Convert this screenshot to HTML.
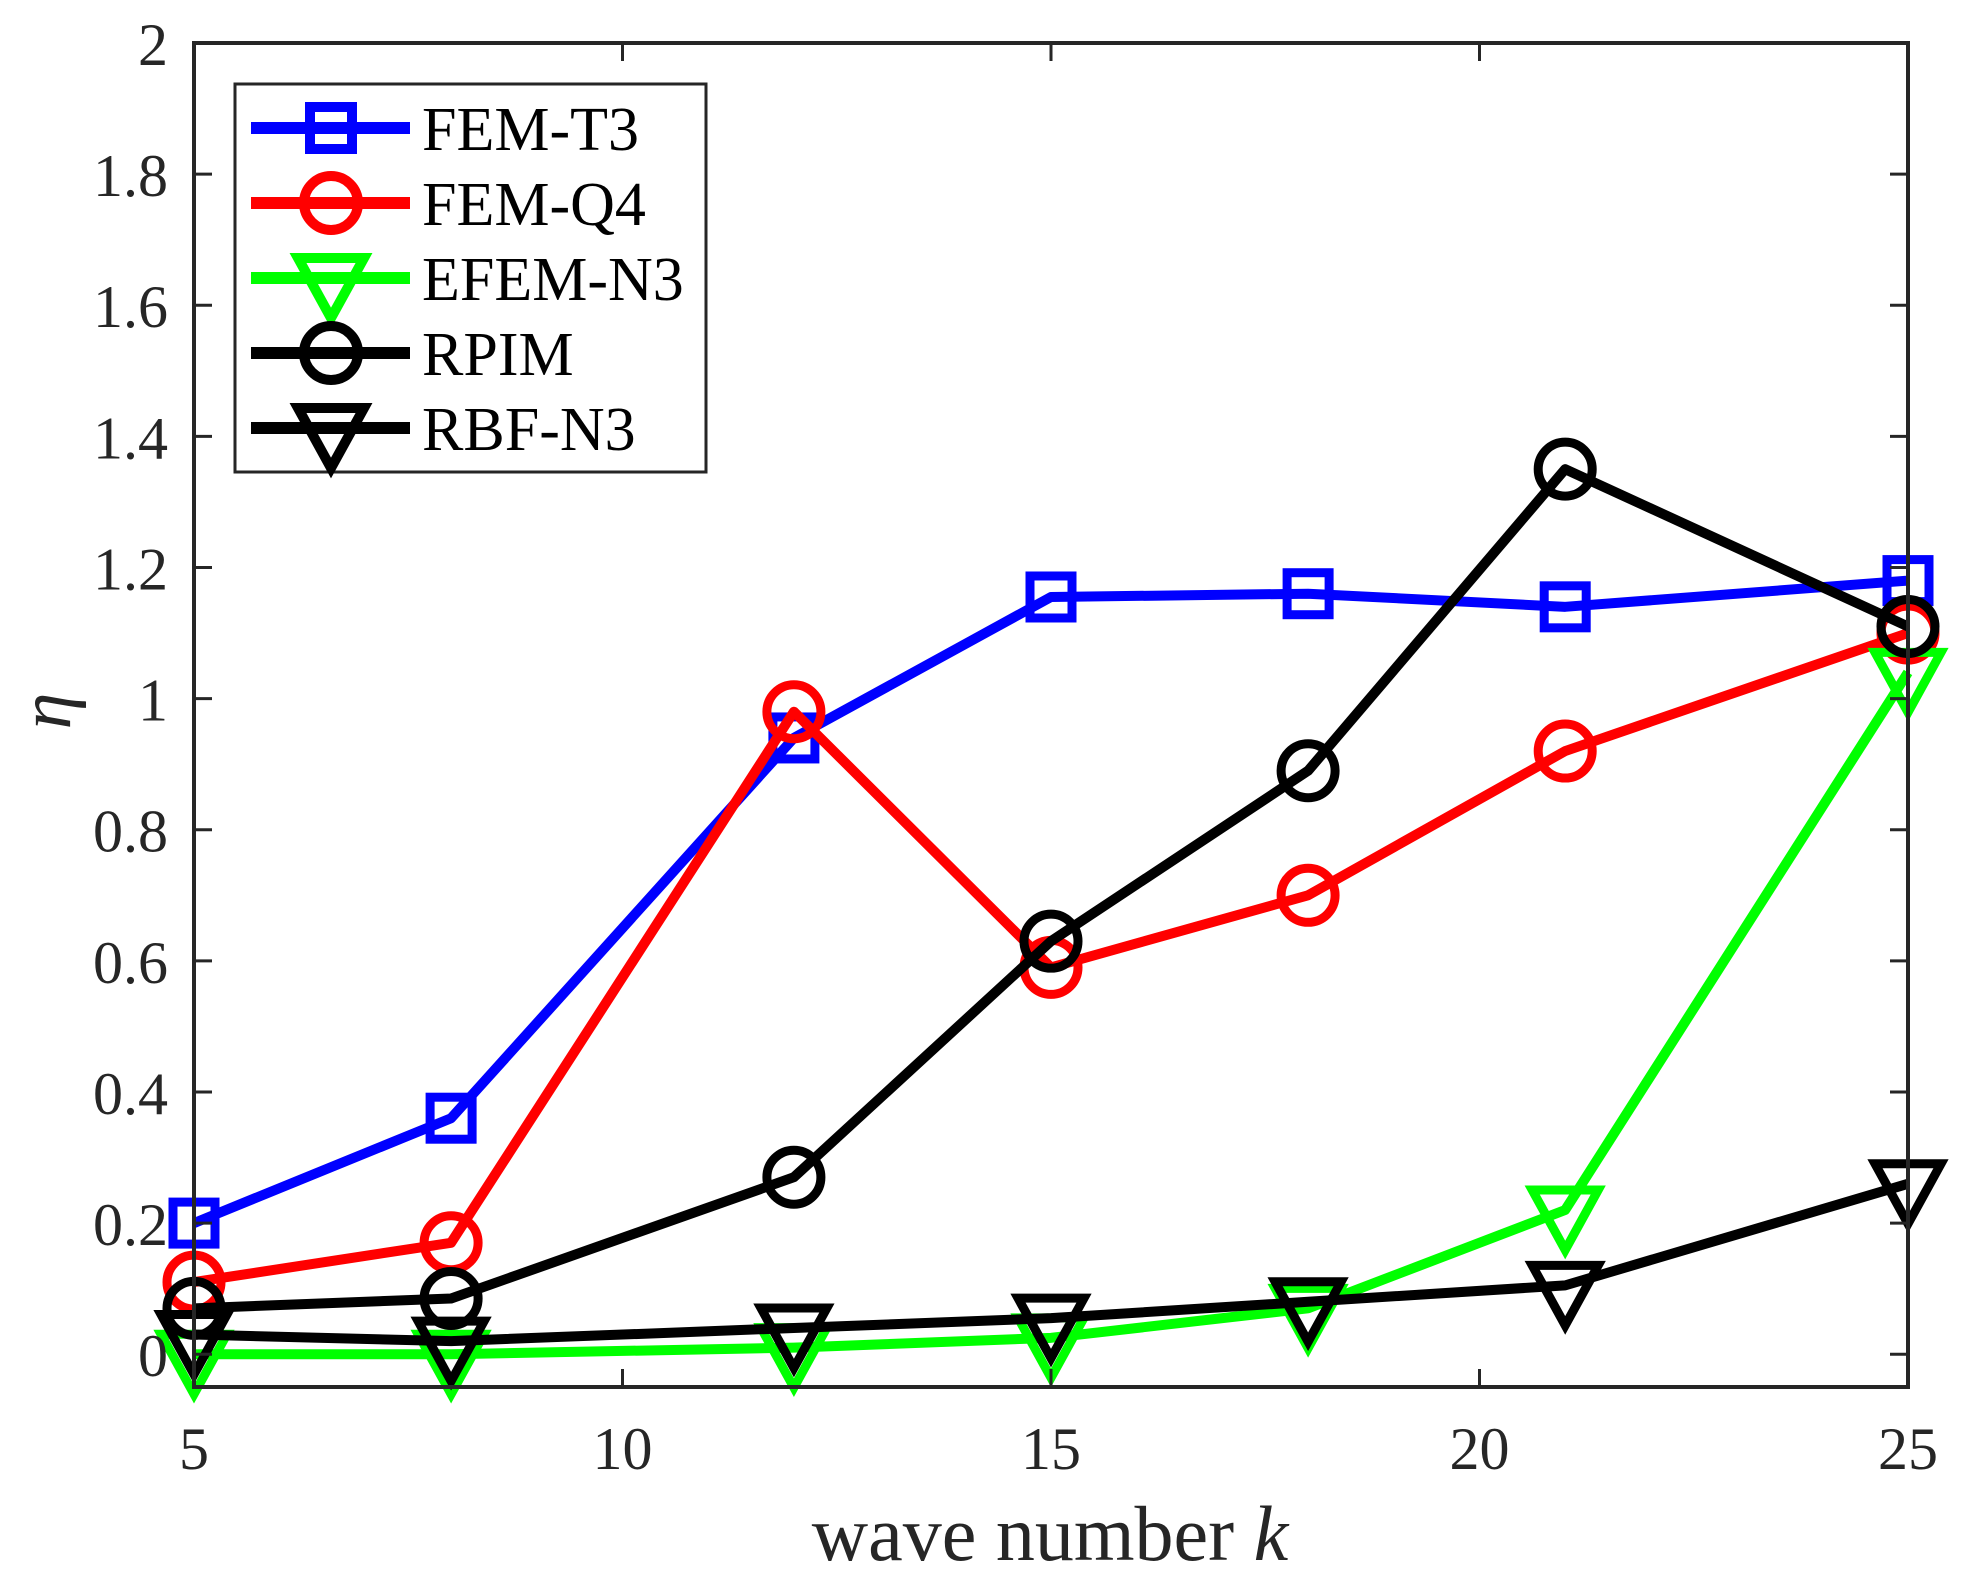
<!DOCTYPE html>
<html><head><meta charset="utf-8"><style>
html,body{margin:0;padding:0;background:#fff;}
svg{display:block;font-family:"Liberation Serif","Times New Roman",serif;}
</style></head><body>
<svg id="chart" width="1963" height="1584" viewBox="0 0 1963 1584" xmlns="http://www.w3.org/2000/svg">
<rect x="0" y="0" width="1963" height="1584" fill="#fff"/>
<g id="series"></g>
<g id="axes"></g>
<g id="legend"></g>
</svg>
<script>
const xValues = [5, 8, 12, 15, 18, 21, 25];
const femT3 = [0.20, 0.36, 0.94, 1.155, 1.16, 1.14, 1.18];
const femQ4 = [0.11, 0.17, 0.98, 0.59, 0.70, 0.92, 1.10];
const efemN3 = [0.0, 0.0, 0.01, 0.025, 0.07, 0.22, 1.04];
const rpim = [0.07, 0.085, 0.27, 0.63, 0.89, 1.35, 1.11];
const rbfN3 = [0.03, 0.02, 0.04, 0.055, 0.08, 0.105, 0.26];
const xTicks = [5, 10, 15, 20, 25];
const yTicks = [0, 0.2, 0.4, 0.6, 0.8, 1, 1.2, 1.4, 1.6, 1.8, 2];
const yTickLabels = ["0", "0.2", "0.4", "0.6", "0.8", "1", "1.2", "1.4", "1.6", "1.8", "2"];
const seriesNames = ["FEM-T3", "FEM-Q4", "EFEM-N3", "RPIM", "RBF-N3"];

const NS = "http://www.w3.org/2000/svg";
const L = 194, R = 1908, T = 43, B = 1387;
const xMin = 5, xMax = 25, yMin = -0.05, yMax = 2;
function sx(v){ return L + (v - xMin) / (xMax - xMin) * (R - L); }
function sy(v){ return B - (v - yMin) / (yMax - yMin) * (B - T); }
function mk(tag, attrs, parent){
  const e = document.createElementNS(NS, tag);
  for (const k in attrs) e.setAttribute(k, attrs[k]);
  parent.appendChild(e);
  return e;
}
const gS = document.getElementById('series');
const gA = document.getElementById('axes');
const gL = document.getElementById('legend');

function marker(type, cx, cy, color, parent, sw){
  let e;
  if (type === 'square') {
    e = mk('rect', {x: cx-21, y: cy-21, width: 42, height: 42, fill: 'none', stroke: color, 'stroke-width': sw}, parent);
  } else if (type === 'circle') {
    e = mk('circle', {cx: cx, cy: cy, r: 27, fill: 'none', stroke: color, 'stroke-width': sw}, parent);
  } else {
    const h = 60, w = 66;
    e = mk('polygon', {points: `${cx-w/2},${cy-h/3} ${cx+w/2},${cy-h/3} ${cx},${cy+2*h/3}`, fill: 'none', stroke: color, 'stroke-width': sw, 'stroke-linejoin': 'miter'}, parent);
  }
  return e;
}

const seriesDefs = [
  {name: seriesNames[0], data: femT3, color: '#0000ff', m: 'square', key: 'fem-t3'},
  {name: seriesNames[1], data: femQ4, color: '#ff0000', m: 'circle', key: 'fem-q4'},
  {name: seriesNames[2], data: efemN3, color: '#00ff00', m: 'tri', key: 'efem-n3'},
  {name: seriesNames[3], data: rpim, color: '#000000', m: 'circle', key: 'rpim'},
  {name: seriesNames[4], data: rbfN3, color: '#000000', m: 'tri', key: 'rbf-n3'}
];

seriesDefs.forEach(s => {
  const g = mk('g', {}, gS);
  
  
  const pts = xValues.map((x, i) => sx(x) + ',' + sy(s.data[i])).join(' ');
  const pl = mk('polyline', {points: pts, fill: 'none', stroke: s.color, 'stroke-width': 10, 'stroke-linejoin': 'round'}, g);
  
  
  xValues.forEach((x, i) => {
    const e = marker(s.m, sx(x), sy(s.data[i]), s.color, g, 9);
    
    
  });
});

const box = mk('rect', {x: L, y: T, width: R-L, height: B-T, fill: 'none', stroke: '#262626', 'stroke-width': 4}, gA);


xTicks.forEach(v => {
  const x = sx(v);
  mk('line', {x1: x, y1: B, x2: x, y2: B-18, stroke: '#262626', 'stroke-width': 3}, gA);
  mk('line', {x1: x, y1: T, x2: x, y2: T+18, stroke: '#262626', 'stroke-width': 3}, gA);
  const t = mk('text', {x: x, y: 1469, 'font-size': 60, 'text-anchor': 'middle', fill: '#262626'}, gA);
  t.textContent = String(v);
  
  
});
yTicks.forEach((v, i) => {
  const y = sy(v);
  mk('line', {x1: L, y1: y, x2: L+18, y2: y, stroke: '#262626', 'stroke-width': 3}, gA);
  mk('line', {x1: R, y1: y, x2: R-18, y2: y, stroke: '#262626', 'stroke-width': 3}, gA);
  const t = mk('text', {x: 168, y: y+22, 'font-size': 60, 'text-anchor': 'end', fill: '#262626'}, gA);
  t.textContent = yTickLabels[i];
  
  
});
const xl = mk('text', {x: 1050, y: 1560, 'font-size': 78, 'text-anchor': 'middle', fill: '#262626'}, gA);
xl.innerHTML = 'wave number <tspan font-style="italic">k</tspan>';


const yl = mk('text', {x: 0, y: 0, 'font-size': 74, 'font-style': 'italic', 'text-anchor': 'middle', fill: '#262626', transform: 'translate(70,711) rotate(-90)'}, gA);
yl.textContent = 'η';



const lb = mk('rect', {x: 235, y: 84, width: 471, height: 388, fill: '#fff', stroke: '#262626', 'stroke-width': 3}, gL);


seriesDefs.forEach((s, i) => {
  const y = 128 + i * 75;
  const g = mk('g', {}, gL);
  
  
  mk('line', {x1: 251, y1: y, x2: 410, y2: y, stroke: s.color, 'stroke-width': 12}, g);
  marker(s.m, 331, y, s.color, g, 10);
  const t = mk('text', {x: 422, y: y + 22, 'font-size': 62, fill: '#000'}, g);
  t.textContent = s.name;
});
</script>
</body></html>
